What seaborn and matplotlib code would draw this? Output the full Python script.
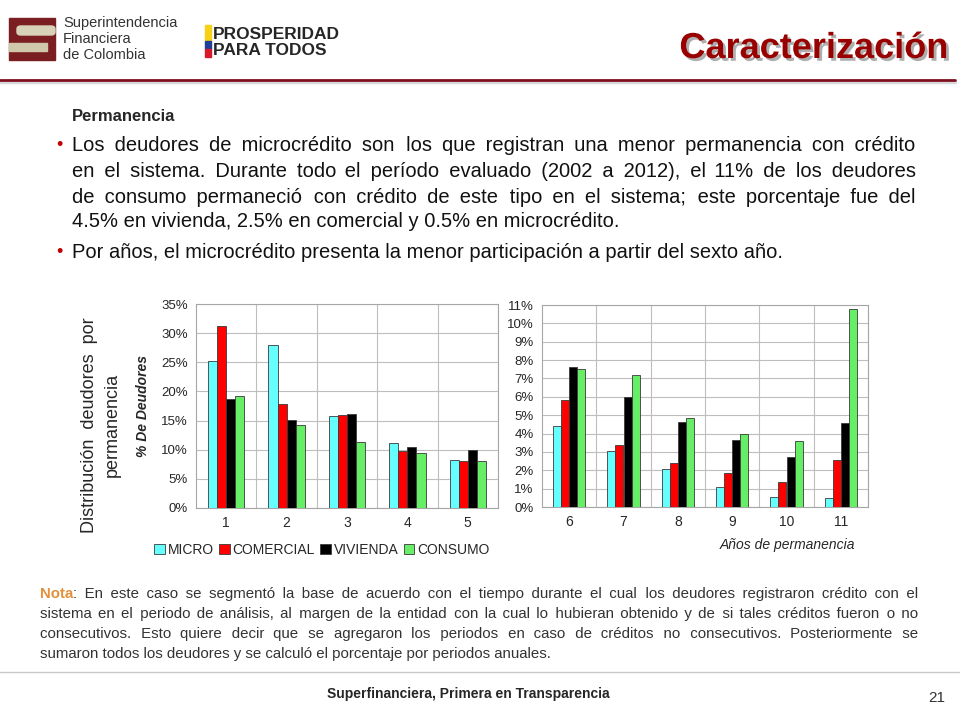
import numpy as np
import pandas as pd
import matplotlib
matplotlib.use("Agg")
import matplotlib.pyplot as plt
import matplotlib.patheffects as pe
import seaborn as sns
from matplotlib.patches import Rectangle, FancyBboxPatch
from matplotlib.lines import Line2D
from matplotlib.font_manager import FontProperties
from matplotlib.ticker import FuncFormatter

# Data

tipos = ['MICRO', 'COMERCIAL', 'VIVIENDA', 'CONSUMO']
colores = ['#66FFFF', '#FF0000', '#000000', '#66EE66']

anios_a = ['1', '2', '3', '4', '5']
micro_a = [25.2, 28.0, 15.8, 11.2, 8.2]
comercial_a = [31.2, 17.85, 15.9, 9.7, 8.1]
vivienda_a = [18.7, 15.1, 16.2, 10.5, 9.9]
consumo_a = [19.3, 14.2, 11.3, 9.5, 8.0]

anios_b = ['6', '7', '8', '9', '10', '11']
micro_b = [4.4, 3.07, 2.09, 1.07, 0.56, 0.47]
comercial_b = [5.8, 3.38, 2.4, 1.84, 1.36, 2.56]
vivienda_b = [7.6, 5.98, 4.64, 3.65, 2.75, 4.58]
consumo_b = [7.5, 7.18, 4.85, 3.96, 3.58, 10.76]

ticks_a = [0, 5, 10, 15, 20, 25, 30, 35]
ticks_b = list(range(0, 12))

bullet1 = ["Los deudores de microcrédito son los que registran una menor permanencia con crédito",
           "en el sistema. Durante todo el período evaluado (2002 a 2012), el 11% de los deudores",
           "de consumo permaneció con crédito de este tipo en el sistema; este porcentaje fue del",
           "4.5% en vivienda, 2.5% en comercial y 0.5% en microcrédito."]
bullet2 = "Por años, el microcrédito presenta la menor participación a partir del sexto año."
nota = [": En este caso se segmentó la base de acuerdo con el tiempo durante el cual  los deudores registraron crédito con el",
        "sistema en el periodo de análisis, al margen de la entidad con la cual lo hubieran obtenido y de si tales créditos fueron o no",
        "consecutivos. Esto quiere decir que se agregaron los periodos en caso de créditos no consecutivos. Posteriormente se",
        "sumaron todos los deudores y se calculó el porcentaje por periodos anuales."]


def to_long(anios, series):
    rows = []
    for tipo, vals in zip(tipos, series):
        for a, v in zip(anios, vals):
            rows.append({'anio': a, 'pct': v, 'tipo': tipo})
    return pd.DataFrame(rows)


df_a = to_long(anios_a, [micro_a, comercial_a, vivienda_a, consumo_a])
df_b = to_long(anios_b, [micro_b, comercial_b, vivienda_b, consumo_b])

sns.set_style('white')
plt.rcParams['font.family'] = ['Liberation Sans', 'DejaVu Sans']
FAM = ['Liberation Sans', 'DejaVu Sans']

W, H = 960, 720
fig = plt.figure(figsize=(9.6, 7.2), dpi=100)


def px(x):
    return x / W


def py(y):
    return 1 - y / H


# Header

fig.add_artist(Rectangle((px(9), py(60)), 46 / W, 42 / H, color='#7A1E22', transform=fig.transFigure))
fig.add_artist(FancyBboxPatch((px(17), py(35)), 38 / W, 9 / H, boxstyle='round,pad=0,rounding_size=0.004',
                              color='#D8D2B8', transform=fig.transFigure))
fig.add_artist(Rectangle((px(9), py(51)), 38 / W, 8 / H, color='#CFC8AA', transform=fig.transFigure))
for i, t in enumerate(['Superintendencia', 'Financiera', 'de Colombia']):
    fig.text(px(63), py(23 + 16 * i), t, fontsize=10.5, color='#333333', va='center')

fig.add_artist(Rectangle((px(205), py(41)), 6 / W, 16 / H, color='#F7D117', transform=fig.transFigure))
fig.add_artist(Rectangle((px(205), py(49)), 6 / W, 8 / H, color='#1F3F99', transform=fig.transFigure))
fig.add_artist(Rectangle((px(205), py(57)), 6 / W, 8 / H, color='#D7192B', transform=fig.transFigure))
fig.text(px(213), py(39), 'PROSPERIDAD', fontsize=12.5, fontweight='bold', va='baseline')
fig.text(px(213), py(55), 'PARA TODOS', fontsize=12.5, fontweight='bold', va='baseline')

fig.text(px(948), py(58), 'Caracterización', fontsize=26, fontweight='bold',
         color='#990000', ha='right', va='baseline',
         path_effects=[pe.SimplePatchShadow(offset=(2, -2), shadow_rgbFace='#9A9A9A', alpha=0.8), pe.Normal()])

fig.add_artist(Line2D([0, px(955)], [py(82), py(82)], color='#D8D8D8', lw=2.5, transform=fig.transFigure))
fig.add_artist(Line2D([0, px(955)], [py(79.5), py(79.5)], color='#7F1020', lw=2, transform=fig.transFigure))

# Body text, justified by filling the gaps with spaces of several widths

renderer = fig.canvas.get_renderer()
SPACES = [' ', '\u2002', '\u2004', '\u2005', '\u2006', '\u2009', '\u200a']


def tw(s, fp):
    return renderer.get_text_width_height_descent(s, fp, ismath=False)[0]


def justify(line, fp, x0, x1, y, color, justified=True):
    words = line.split()
    if not justified or len(words) < 2:
        fig.text(px(x0), py(y), ' '.join(words), fontproperties=fp, color=color, va='baseline')
        return
    base = tw('aa', fp)
    units = sorted({ch: tw('a' + ch + 'a', fp) - base for ch in SPACES}.items(), key=lambda t: -t[1])
    units = [u for u in units if u[1] > 0.3]
    smallest = units[-1][1]
    gap = (x1 - x0 - tw(''.join(words), fp)) / (len(words) - 1)
    out = words[0]
    done = 0.0
    for k, w in enumerate(words[1:], start=1):
        r = k * gap - done
        sp = ''
        for ch, uw in units:
            n = int((r + 0.01) // uw)
            sp += ch * n
            r -= n * uw
            done += n * uw
        if r > smallest / 2:
            sp += units[-1][0]
            done += smallest
        if not sp:
            sp = units[-1][0]
            done += smallest
        out += sp + w
    fig.text(px(x0), py(y), out, fontproperties=fp, color=color, va='baseline')


body_fp = FontProperties(family=FAM, size=14.5)
fig.text(px(72), py(121), 'Permanencia', fontsize=12, fontweight='bold', va='baseline')
base_y = [151, 177, 203, 227]
for i, line in enumerate(bullet1):
    justify(line, body_fp, 72, 916, base_y[i], '#111111', justified=i < 3)
justify(bullet2, body_fp, 72, 916, 258, '#111111', justified=False)
for yb in [150, 257]:
    fig.text(px(56), py(yb), '•', fontsize=13, color='#C00000', va='baseline')

nota_fp = FontProperties(family=FAM, size=10.8)
nota_b = FontProperties(family=FAM, size=10.8, weight='bold')
fig.text(px(40), py(598), 'Nota', fontproperties=nota_b, color='#E2913A', va='baseline')
x_nota = 40 + tw('Nota', nota_b)
for i, line in enumerate(nota):
    x0 = x_nota if i == 0 else 40
    justify(line, nota_fp, x0, 918, 598 + 20 * i, '#333333', justified=i < 3)

fig.add_artist(Line2D([0, 1], [py(672), py(672)], color='#C8C8C8', lw=1, transform=fig.transFigure))
fig.text(px(468), py(698), 'Superfinanciera, Primera en Transparencia', fontsize=10, fontweight='bold',
         ha='center', va='baseline')
fig.text(px(937), py(702), '21', fontsize=11, ha='center', va='baseline', color='#333333')

# Charts

ax1 = fig.add_axes([px(196), py(508), 302 / W, 204 / H])
ax2 = fig.add_axes([px(542), py(507), 326 / W, 202 / H])

for ax, df, anios, ticks in [(ax1, df_a, anios_a, ticks_a), (ax2, df_b, anios_b, ticks_b)]:
    sns.barplot(data=df, x='anio', y='pct', hue='tipo', hue_order=tipos, order=anios,
                palette=colores, saturation=1, width=0.6, edgecolor='#3A3A3A', linewidth=0.6,
                ax=ax, legend=False, zorder=3)
    n = len(anios)
    ax.set_xlim(-0.5, n - 0.5)
    ax.set_ylim(0, ticks[-1])
    ax.set_yticks(ticks)
    ax.yaxis.set_major_formatter(FuncFormatter(lambda v, p: f'{int(v)}%'))
    ax.set_xticks(np.arange(n) + 0.5, minor=True)
    ax.grid(True, axis='y', which='major', color='#BEBEBE', lw=0.8, zorder=0)
    ax.grid(True, axis='x', which='minor', color='#BEBEBE', lw=0.8, zorder=0)
    ax.set_axisbelow(True)
    for s in ax.spines.values():
        s.set_color('#A6A6A6')
        s.set_linewidth(0.8)
    ax.tick_params(axis='y', which='major', length=3, color='#A6A6A6', labelsize=9.5, pad=3)
    ax.tick_params(axis='x', which='both', length=0, labelsize=10, pad=6)
    ax.set_xlabel('')
    ax.set_ylabel('')

ax1.set_ylabel('% De Deudores', fontsize=10, fontweight='bold', fontstyle='italic', labelpad=8)
fig.text(px(855), py(549), 'Años de permanencia', fontsize=10, fontstyle='italic', ha='right', va='baseline')

fig.text(px(89), py(425), 'Distribución  deudores  por', fontsize=13, rotation=90, ha='center', va='center')
fig.text(px(112), py(425), 'permanencia', fontsize=13, rotation=90, ha='center', va='center')

handles = [Rectangle((0, 0), 1, 1, facecolor=c, edgecolor='#3A3A3A', linewidth=0.6) for c in colores]
fig.legend(handles, tipos, loc='center', bbox_to_anchor=(px(322), py(550)), ncol=4, frameon=False,
           fontsize=10, handlelength=0.75, handleheight=0.75, handletextpad=0.2, columnspacing=0.4,
           borderaxespad=0, borderpad=0)

fig.savefig('out.png', dpi=100)
